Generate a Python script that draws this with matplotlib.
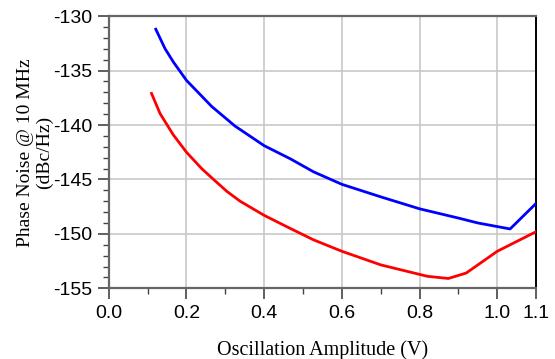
import numpy as np
import matplotlib
matplotlib.use("Agg")
import matplotlib.pyplot as plt
from matplotlib.ticker import MultipleLocator

plt.rcParams["axes.unicode_minus"] = False

# ─── data ─────────────────────────────────────────────────────────────────────
blue_amp = [0.121, 0.145, 0.166, 0.20, 0.265, 0.325, 0.40, 0.467, 0.527, 0.60, 0.70, 0.80,
            0.90, 0.95, 1.033, 1.10]
blue_pn = [-131.2, -133.0, -134.2, -135.9, -138.3, -140.1, -141.9, -143.1, -144.3, -145.45,
           -146.6, -147.7, -148.55, -149.0, -149.55, -147.2]

red_amp = [0.11, 0.132, 0.166, 0.20, 0.239, 0.265, 0.304, 0.338, 0.40, 0.467, 0.527, 0.60,
           0.70, 0.82, 0.874, 0.92, 1.00, 1.10]
red_pn = [-137.1, -138.95, -140.9, -142.5, -144.0, -144.85, -146.1, -147.0, -148.3, -149.5,
          -150.55, -151.6, -152.85, -153.9, -154.1, -153.6, -151.6, -149.8]

x_ticks = [0.0, 0.2, 0.4, 0.6, 0.8, 1.0, 1.1]
x_tick_labels = ["0.0", "0.2", "0.4", "0.6", "0.8", "1.0", "1.1"]
y_ticks = [-155, -150, -145, -140, -135, -130]

fig = plt.figure(figsize=(5.55, 3.59), dpi=100)
ax = fig.add_axes([0.196, 0.197, 0.770, 0.758])

ax.plot(blue_amp, blue_pn, color="#0000ff", lw=2.0, zorder=3)
ax.plot(red_amp, red_pn, color="#ff0000", lw=2.0, zorder=3)

ax.set_xlim(0.0, 1.1)
ax.set_ylim(-155, -130)
ax.set_xticks(x_ticks)
ax.set_xticklabels(x_tick_labels)
ax.set_yticks(y_ticks)
ax.xaxis.set_minor_locator(MultipleLocator(0.1))
ax.yaxis.set_minor_locator(MultipleLocator(1))

ax.grid(True, which="major", color="#c8c8c8", lw=1.2)
ax.set_axisbelow(True)

for side in ("left", "bottom", "top"):
    ax.spines[side].set_color("#666666")
    ax.spines[side].set_linewidth(1.6)
ax.spines["right"].set_color("black")
ax.spines["right"].set_linewidth(1.4)

ax.tick_params(which="major", direction="out", length=8, width=1.2, color="#444444",
               labelsize=14, pad=4)
ax.tick_params(which="minor", direction="out", length=4, width=1.0, color="#444444")
for lab in ax.get_xticklabels() + ax.get_yticklabels():
    lab.set_family("Liberation Sans")

ax.set_xlabel("Oscillation Amplitude (V)", family="Liberation Serif", fontsize=14.5,
              labelpad=13)
ax.set_ylabel("Phase Noise @ 10 MHz\n(dBc/Hz)", family="Liberation Serif", fontsize=14,
              labelpad=0, linespacing=1.1)

fig.savefig("out.png", dpi=100)
